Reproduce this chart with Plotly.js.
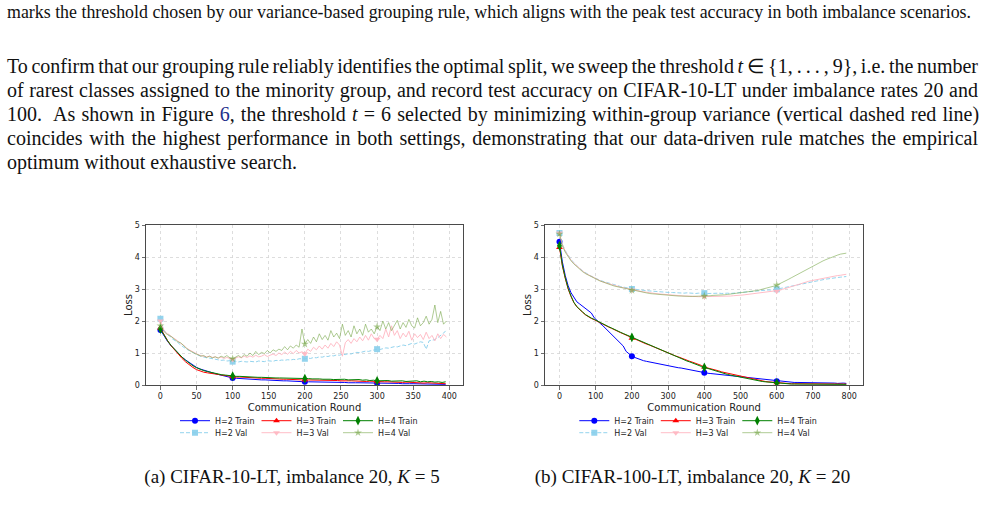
<!DOCTYPE html>
<html>
<head>
<meta charset="utf-8">
<script src="https://cdn.plot.ly/plotly-3.0.1.min.js"></script>
<style>
  html, body { margin: 0; padding: 0; background: #fff; }
  #page { position: relative; width: 986px; height: 506px; overflow: hidden; background: #fff; }
  #fig { position: absolute; left: 0; top: 0; width: 986px; height: 506px; }
  .txt { position: absolute; font-family: "Liberation Serif", "Times New Roman", serif; color: #111;
         white-space: nowrap; z-index: 2; pointer-events: none; }
  .body { font-size: 20px; line-height: 24px; left: 7px; }
  .cap { font-size: 18px; line-height: 22px; }
  .sub { font-size: 19px; line-height: 22px; }
  .link { color: #1d2f8c; }
  .fitline { display: inline-block; transform-origin: 0 0; }
</style>
</head>
<body>
<div id="page">
  <div id="fig"></div>

  <div class="txt cap" style="left:7px; top:1px;"><span class="fitline" data-w="964" data-mode="scale">marks the threshold chosen by our variance-based grouping rule, which aligns with the peak test accuracy in both imbalance scenarios.</span></div>

  <div class="txt body" style="top:53.75px;"><span class="fitline" data-w="971">To confirm that our grouping rule reliably identifies the optimal split, we sweep the threshold <i>t</i>&#8201;&#8712;&#8201;{1,&#8201;.&#8201;.&#8201;.&#8201;,&#8201;9}, i.e. the number</span></div>
  <div class="txt body" style="top:77.9px;"><span class="fitline" data-w="971">of rarest classes assigned to the minority group, and record test accuracy on CIFAR-10-LT under imbalance rates 20 and</span></div>
  <div class="txt body" style="top:102.05px;"><span class="fitline" data-w="971">100.&nbsp; As shown in Figure <span class="link">6</span>, the threshold <i>t</i> = 6 selected by minimizing within-group variance (vertical dashed red line)</span></div>
  <div class="txt body" style="top:126.2px;"><span class="fitline" data-w="971">coincides with the highest performance in both settings, demonstrating that our data-driven rule matches the empirical</span></div>
  <div class="txt body" style="top:150.35px;"><span>optimum without exhaustive search.</span></div>

  <div class="txt sub" id="capA" style="top:466px;">(a) CIFAR-10-LT, imbalance 20, <i>K</i> = 5</div>
  <div class="txt sub" id="capB" style="top:466px;">(b) CIFAR-100-LT, imbalance 20, <i>K</i> = 20</div>
</div>

<script>
// ---------- round indices ----------
function steps(start, stop, step) {
  const out = [];
  for (let v = start; v < stop; v += step) out.push(v);
  return out;
}

// CIFAR-10-LT (K = 5), 400 rounds
const roundsTrainA = steps(0, 400, 5);
const roundsValA = steps(0, 400, 4);
// CIFAR-100-LT (K = 20), 800 rounds
const roundsB = steps(0, 800, 8);

// ---------- CIFAR-10-LT losses ----------
const trainA_H2 = [
  1.72, 1.52, 1.36, 1.22, 1.1, 0.98, 0.87, 0.78, 0.7, 0.62,
  0.55, 0.5, 0.46, 0.42, 0.39, 0.36, 0.33, 0.3, 0.28, 0.25,
  0.22, 0.21, 0.2, 0.2, 0.19, 0.18, 0.18, 0.17, 0.16, 0.16,
  0.15, 0.15, 0.14, 0.14, 0.13, 0.13, 0.12, 0.12, 0.11, 0.11,
  0.1, 0.1, 0.1, 0.09, 0.1, 0.09, 0.09, 0.08, 0.09, 0.08,
  0.08, 0.08, 0.07, 0.08, 0.07, 0.07, 0.07, 0.06, 0.07, 0.06,
  0.06, 0.06, 0.05, 0.06, 0.05, 0.05, 0.05, 0.04, 0.05, 0.04,
  0.04, 0.04, 0.03, 0.04, 0.03, 0.03, 0.03, 0.02, 0.03, 0.02
];
const trainA_H3 = [
  1.78, 1.56, 1.38, 1.22, 1.08, 0.95, 0.83, 0.72, 0.63, 0.55,
  0.48, 0.43, 0.4, 0.38, 0.37, 0.35, 0.33, 0.31, 0.29, 0.27,
  0.26, 0.25, 0.25, 0.24, 0.23, 0.23, 0.22, 0.22, 0.21, 0.21,
  0.2, 0.2, 0.19, 0.19, 0.18, 0.18, 0.17, 0.17, 0.17, 0.16,
  0.16, 0.16, 0.15, 0.16, 0.15, 0.15, 0.14, 0.15, 0.14, 0.14,
  0.13, 0.14, 0.13, 0.13, 0.12, 0.13, 0.12, 0.11, 0.12, 0.11,
  0.1, 0.11, 0.1, 0.1, 0.09, 0.1, 0.09, 0.08, 0.09, 0.08,
  0.07, 0.08, 0.07, 0.06, 0.07, 0.06, 0.05, 0.06, 0.05, 0.04
];
const trainA_H4 = [
  1.75, 1.55, 1.38, 1.23, 1.1, 0.98, 0.87, 0.77, 0.68, 0.6,
  0.54, 0.49, 0.45, 0.42, 0.39, 0.36, 0.34, 0.32, 0.31, 0.29,
  0.28, 0.27, 0.27, 0.26, 0.26, 0.25, 0.25, 0.24, 0.24, 0.23,
  0.23, 0.23, 0.22, 0.22, 0.22, 0.21, 0.21, 0.21, 0.2, 0.21,
  0.2, 0.2, 0.19, 0.2, 0.19, 0.18, 0.19, 0.18, 0.17, 0.18,
  0.17, 0.18, 0.16, 0.17, 0.16, 0.17, 0.15, 0.16, 0.14, 0.15,
  0.13, 0.14, 0.13, 0.14, 0.12, 0.13, 0.12, 0.13, 0.11, 0.12,
  0.11, 0.13, 0.1, 0.12, 0.1, 0.11, 0.09, 0.1, 0.08, 0.1
];
const valA_H2 = [
  2.07, 1.75, 1.62, 1.55, 1.45, 1.4, 1.33, 1.25, 1.18, 1.12,
  1.08, 1.02, 0.98, 0.93, 0.9, 0.87, 0.85, 0.84, 0.82, 0.8,
  0.79, 0.77, 0.78, 0.75, 0.76, 0.73, 0.74, 0.72, 0.74, 0.73,
  0.72, 0.74, 0.73, 0.72, 0.75, 0.74, 0.73, 0.76, 0.75, 0.74,
  0.77, 0.76, 0.78, 0.77, 0.79, 0.78, 0.8, 0.79, 0.82, 0.81,
  0.82, 0.84, 0.83, 0.86, 0.85, 0.88, 0.87, 0.9, 0.89, 0.92,
  0.91, 0.94, 0.93, 0.96, 0.95, 0.98, 0.97, 1.0, 1.02, 1.01,
  1.04, 1.06, 1.05, 1.08, 1.1, 1.12, 1.11, 1.14, 1.16, 1.15,
  1.18, 1.2, 1.19, 1.22, 1.25, 1.23, 1.27, 1.3, 1.28, 1.32,
  1.35, 1.33, 1.12, 1.38, 1.4, 1.42, 1.48, 1.55, 1.62, 1.72
];
const valA_H3 = [
  2.0, 1.75, 1.62, 1.58, 1.5, 1.45, 1.38, 1.3, 1.25, 1.15,
  1.1, 1.05, 0.98, 0.95, 0.92, 0.9, 0.88, 0.9, 0.86, 0.88,
  0.84, 0.87, 0.83, 0.86, 0.82, 0.8, 0.84, 0.88, 0.85, 0.9,
  0.86, 0.91, 0.87, 0.93, 0.88, 0.9, 0.95, 0.89, 0.93, 0.97,
  0.92, 1.0, 0.95, 1.03, 0.96, 1.05, 0.98, 1.08, 1.0, 1.04,
  0.98, 1.12, 1.05, 1.18, 1.1, 1.22, 1.12, 1.25, 1.15, 1.3,
  1.2, 1.35, 1.25, 0.9, 1.32, 1.42, 1.3, 1.45, 1.35, 1.5,
  1.38, 1.55, 1.4, 1.6, 1.45, 1.43, 1.55, 1.45, 1.75, 1.5,
  1.85, 1.55, 1.7, 1.45, 1.62, 1.5, 1.68, 1.4, 1.6, 1.48,
  1.58, 1.42, 1.65, 1.45, 1.55, 1.38, 1.6, 1.45, 1.58, 1.5
];
const valA_H4 = [
  1.85, 1.7, 1.6, 1.55, 1.5, 1.42, 1.35, 1.32, 1.22, 1.15,
  1.08, 1.02, 0.98, 0.95, 0.9, 0.92, 0.86, 0.9, 0.85, 0.88,
  0.84, 0.9, 0.86, 0.92, 0.85, 0.82, 0.88, 0.92, 0.86, 0.95,
  0.9, 1.0, 0.92, 1.05, 0.95, 1.02, 0.98, 1.08, 1.0, 1.1,
  1.05, 1.12, 1.08, 1.2, 1.1, 1.22, 1.15, 1.25, 1.18, 1.75,
  1.28, 1.42, 1.3, 1.5, 1.35, 1.6, 1.42, 1.55, 1.4, 1.7,
  1.5, 1.62, 1.45, 1.9, 1.55, 1.7, 1.5, 1.85, 1.6, 1.75,
  1.55, 1.9, 1.65, 1.75, 1.6, 1.82, 1.7, 2.0, 1.75, 1.95,
  1.7, 1.85, 2.02, 1.75, 1.95, 1.8, 2.05, 1.85, 1.78, 2.1,
  1.85, 1.95, 2.15, 1.9, 2.05, 2.5, 1.95, 2.3, 1.9, 2.0
];

// ---------- CIFAR-100-LT losses ----------
const trainB_H2 = [
  4.48, 3.85, 3.42, 3.1, 2.88, 2.72, 2.6, 2.53, 2.46, 2.4,
  2.33, 2.25, 2.1, 2.0, 1.93, 1.85, 1.76, 1.68, 1.6, 1.52,
  1.42, 1.33, 1.22, 1.05, 0.97, 0.9, 0.86, 0.82, 0.79, 0.76,
  0.74, 0.72, 0.7, 0.68, 0.66, 0.64, 0.62, 0.61, 0.59, 0.57,
  0.56, 0.54, 0.53, 0.51, 0.5, 0.48, 0.46, 0.44, 0.42, 0.4,
  0.38, 0.37, 0.36, 0.35, 0.34, 0.33, 0.33, 0.32, 0.31, 0.3,
  0.29, 0.28, 0.27, 0.26, 0.25, 0.24, 0.22, 0.21, 0.2, 0.18,
  0.17, 0.16, 0.15, 0.14, 0.13, 0.12, 0.11, 0.1, 0.1, 0.09,
  0.09, 0.08, 0.08, 0.08, 0.07, 0.07, 0.08, 0.07, 0.07, 0.06,
  0.07, 0.06, 0.06, 0.07, 0.06, 0.06, 0.05, 0.06, 0.06, 0.05
];
const trainB_H3 = [
  4.3, 3.72, 3.33, 3.0, 2.76, 2.57, 2.44, 2.34, 2.27, 2.19,
  2.13, 2.08, 2.04, 1.99, 1.95, 1.9, 1.86, 1.81, 1.77, 1.72,
  1.68, 1.64, 1.6, 1.56, 1.51, 1.46, 1.43, 1.4, 1.36, 1.32,
  1.28, 1.25, 1.21, 1.17, 1.13, 1.1, 1.06, 1.02, 0.98, 0.95,
  0.91, 0.88, 0.84, 0.81, 0.78, 0.74, 0.71, 0.68, 0.64, 0.61,
  0.56, 0.54, 0.51, 0.48, 0.46, 0.44, 0.41, 0.39, 0.36, 0.34,
  0.31, 0.29, 0.27, 0.25, 0.23, 0.21, 0.19, 0.17, 0.16, 0.14,
  0.12, 0.11, 0.1, 0.09, 0.08, 0.07, 0.06, 0.06, 0.05, 0.05,
  0.04, 0.04, 0.04, 0.03, 0.03, 0.03, 0.03, 0.03, 0.03, 0.03,
  0.03, 0.03, 0.03, 0.03, 0.03, 0.03, 0.03, 0.03, 0.03, 0.03
];
const trainB_H4 = [
  4.35, 3.75, 3.35, 3.02, 2.78, 2.58, 2.45, 2.35, 2.28, 2.2,
  2.14, 2.09, 2.05, 2.0, 1.96, 1.91, 1.86, 1.82, 1.78, 1.73,
  1.69, 1.65, 1.61, 1.57, 1.53, 1.49, 1.45, 1.41, 1.37, 1.33,
  1.29, 1.25, 1.21, 1.17, 1.13, 1.09, 1.05, 1.01, 0.97, 0.93,
  0.9, 0.86, 0.82, 0.79, 0.75, 0.72, 0.68, 0.65, 0.62, 0.58,
  0.55, 0.52, 0.49, 0.46, 0.43, 0.41, 0.38, 0.36, 0.33, 0.31,
  0.29, 0.27, 0.25, 0.23, 0.21, 0.19, 0.17, 0.16, 0.14, 0.13,
  0.11, 0.1, 0.09, 0.08, 0.07, 0.06, 0.05, 0.05, 0.04, 0.04,
  0.03, 0.03, 0.03, 0.02, 0.02, 0.02, 0.02, 0.02, 0.02, 0.02,
  0.02, 0.02, 0.02, 0.02, 0.02, 0.02, 0.02, 0.02, 0.02, 0.02
];
const valB_H2 = [
  4.75, 4.4, 4.2, 4.05, 3.92, 3.82, 3.72, 3.64, 3.57, 3.5,
  3.45, 3.4, 3.35, 3.31, 3.27, 3.24, 3.21, 3.18, 3.15, 3.12,
  3.1, 3.08, 3.06, 3.04, 3.02, 3.0, 2.99, 2.98, 2.97, 2.95,
  2.95, 2.94, 2.93, 2.92, 2.92, 2.91, 2.9, 2.9, 2.89, 2.89,
  2.88, 2.88, 2.88, 2.87, 2.88, 2.87, 2.87, 2.86, 2.87, 2.86,
  2.87, 2.86, 2.86, 2.87, 2.86, 2.87, 2.86, 2.87, 2.87, 2.86,
  2.87, 2.88, 2.88, 2.89, 2.9, 2.91, 2.92, 2.93, 2.94, 2.95,
  2.95, 2.96, 2.97, 2.97, 2.98, 2.99, 3.01, 3.03, 3.05, 3.07,
  3.09, 3.11, 3.13, 3.15, 3.17, 3.19, 3.21, 3.23, 3.24, 3.26,
  3.28, 3.29, 3.31, 3.32, 3.34, 3.35, 3.36, 3.37, 3.38, 3.39
];
const valB_H3 = [
  4.75, 4.38, 4.18, 4.03, 3.9, 3.8, 3.71, 3.63, 3.56, 3.49,
  3.44, 3.39, 3.34, 3.3, 3.26, 3.22, 3.19, 3.16, 3.13, 3.1,
  3.08, 3.06, 3.04, 3.02, 3.0, 2.97, 2.96, 2.94, 2.93, 2.91,
  2.9, 2.88, 2.87, 2.86, 2.85, 2.84, 2.83, 2.82, 2.81, 2.8,
  2.8, 2.79, 2.79, 2.78, 2.78, 2.77, 2.77, 2.77, 2.76, 2.76,
  2.76, 2.76, 2.76, 2.76, 2.77, 2.76, 2.77, 2.77, 2.78, 2.78,
  2.79, 2.79, 2.8, 2.81, 2.82, 2.83, 2.84, 2.85, 2.86, 2.87,
  2.88, 2.89, 2.9, 2.91, 2.92, 2.93, 2.96, 2.99, 3.02, 3.05,
  3.08, 3.11, 3.14, 3.17, 3.2, 3.22, 3.24, 3.26, 3.28, 3.3,
  3.32, 3.34, 3.36, 3.37, 3.39, 3.4, 3.42, 3.43, 3.45, 3.46
];
const valB_H4 = [
  4.72, 4.35, 4.15, 4.0, 3.88, 3.78, 3.69, 3.61, 3.54, 3.48,
  3.43, 3.38, 3.33, 3.29, 3.25, 3.22, 3.18, 3.15, 3.12, 3.09,
  3.07, 3.05, 3.03, 3.01, 2.99, 2.96, 2.94, 2.92, 2.9, 2.89,
  2.87, 2.86, 2.85, 2.84, 2.83, 2.82, 2.81, 2.8, 2.8, 2.79,
  2.79, 2.78, 2.78, 2.77, 2.77, 2.77, 2.77, 2.77, 2.78, 2.78,
  2.78, 2.79, 2.79, 2.8, 2.8, 2.81, 2.81, 2.82, 2.83, 2.84,
  2.85, 2.86, 2.87, 2.88, 2.89, 2.9, 2.91, 2.93, 2.95, 2.97,
  2.99, 3.01, 3.03, 3.06, 3.09, 3.12, 3.16, 3.2, 3.25, 3.3,
  3.35, 3.4, 3.45, 3.5, 3.55, 3.6, 3.65, 3.7, 3.75, 3.79,
  3.84, 3.88, 3.92, 3.96, 4.0, 4.03, 4.06, 4.09, 4.11, 4.12
];

const xTicksA = [0, 50, 100, 150, 200, 250, 300, 350, 400];
const xTicksB = [0, 100, 200, 300, 400, 500, 600, 700, 800];
const yTicks = [0, 1, 2, 3, 4, 5];

// ---------- styles per series ----------
const styles = {
  'H=2 Train': { color: '#0000ff', symbol: 'circle', size: 6, dash: 'solid' },
  'H=3 Train': { color: '#ff0000', symbol: 'triangle-up', size: 6, dash: 'solid' },
  'H=4 Train': { color: '#008000', symbol: 'diamond-tall', size: 7, dash: 'solid' },
  'H=2 Val':   { color: 'rgba(135,206,235,0.9)', symbol: 'square', size: 6, dash: '4px,2px' },
  'H=3 Val':   { color: 'rgba(255,182,193,0.9)', symbol: 'triangle-down', size: 6, dash: 'solid' },
  'H=4 Val':   { color: 'rgba(110,160,60,0.55)', symbol: 'star', size: 6, dash: 'solid' }
};

const traces = [];

function addSeries(name, xs, ys, xa, ya, markStep) {
  const st = styles[name];
  traces.push({
    type: 'scatter', mode: 'lines', x: xs, y: ys, xaxis: xa, yaxis: ya,
    line: { color: st.color, width: 1, dash: st.dash }, showlegend: false, hoverinfo: 'skip'
  });
  const mx = [], my = [];
  xs.forEach((x, i) => { if (x % markStep === 0) { mx.push(x); my.push(ys[i]); } });
  traces.push({
    type: 'scatter', mode: 'markers', x: mx, y: my, xaxis: xa, yaxis: ya,
    marker: { symbol: st.symbol, size: st.size, color: st.color, line: { width: 0 } },
    showlegend: false, hoverinfo: 'skip'
  });
}

function addLegendEntry(name, legendId, xa, ya) {
  const st = styles[name];
  traces.push({
    type: 'scatter', mode: 'lines+markers', x: [null], y: [null], xaxis: xa, yaxis: ya,
    name: name, legend: legendId,
    line: { color: st.color, width: 1, dash: st.dash },
    marker: { symbol: st.symbol, size: st.size, color: st.color, line: { width: 0 } }
  });
}

// Left panel: CIFAR-10-LT
addSeries('H=2 Train', roundsTrainA, trainA_H2, 'x', 'y', 100);
addSeries('H=2 Val', roundsValA, valA_H2, 'x', 'y', 100);
addSeries('H=3 Train', roundsTrainA, trainA_H3, 'x', 'y', 100);
addSeries('H=3 Val', roundsValA, valA_H3, 'x', 'y', 100);
addSeries('H=4 Train', roundsTrainA, trainA_H4, 'x', 'y', 100);
addSeries('H=4 Val', roundsValA, valA_H4, 'x', 'y', 100);

// Right panel: CIFAR-100-LT
addSeries('H=2 Train', roundsB, trainB_H2, 'x2', 'y2', 200);
addSeries('H=2 Val', roundsB, valB_H2, 'x2', 'y2', 200);
addSeries('H=3 Train', roundsB, trainB_H3, 'x2', 'y2', 200);
addSeries('H=3 Val', roundsB, valB_H3, 'x2', 'y2', 200);
addSeries('H=4 Train', roundsB, trainB_H4, 'x2', 'y2', 200);
addSeries('H=4 Val', roundsB, valB_H4, 'x2', 'y2', 200);

// Legend rows: train on the first row, validation on the second
['H=2 Train', 'H=3 Train', 'H=4 Train'].forEach(n => addLegendEntry(n, 'legend', 'x', 'y'));
['H=2 Val', 'H=3 Val', 'H=4 Val'].forEach(n => addLegendEntry(n, 'legend2', 'x', 'y'));
['H=2 Train', 'H=3 Train', 'H=4 Train'].forEach(n => addLegendEntry(n, 'legend3', 'x2', 'y2'));
['H=2 Val', 'H=3 Val', 'H=4 Val'].forEach(n => addLegendEntry(n, 'legend4', 'x2', 'y2'));

const W = 986, H = 506;
const axisFrame = {
  showline: true, mirror: true, linecolor: '#4a4a4a', linewidth: 1,
  ticks: 'outside', ticklen: 3.5, tickwidth: 0.8, tickcolor: '#4a4a4a',
  showgrid: true, gridcolor: '#d4d4d4', gridwidth: 0.8, griddash: 'dot',
  zeroline: false, tickfont: { size: 8, color: '#222' }, fixedrange: true
};

function xAxis(domainPx, rng, ticks, anchor) {
  return Object.assign({}, axisFrame, {
    domain: [domainPx[0] / W, domainPx[1] / W], range: rng, anchor: anchor,
    tickmode: 'array', tickvals: ticks,
    title: { text: 'Communication Round', font: { size: 10, color: '#222' }, standoff: 3 }
  });
}
function yAxis(domainPx, anchor) {
  return Object.assign({}, axisFrame, {
    domain: [1 - domainPx[1] / H, 1 - domainPx[0] / H], range: [0, 5], anchor: anchor,
    tickmode: 'array', tickvals: yTicks,
    title: { text: 'Loss', font: { size: 10, color: '#222' }, standoff: 0 }
  });
}

function legendRow(leftPx, topPx) {
  return {
    orientation: 'h', x: leftPx / W, y: 1 - topPx / H, xanchor: 'left', yanchor: 'top',
    entrywidth: 36.5, entrywidthmode: 'pixels', itemwidth: 30,
    bgcolor: 'rgba(0,0,0,0)', borderwidth: 0,
    font: { size: 8, color: '#222', family: 'DejaVu Sans, sans-serif' }
  };
}

const layout = {
  width: W, height: H, margin: { l: 0, r: 0, t: 0, b: 0 },
  paper_bgcolor: '#ffffff', plot_bgcolor: '#ffffff',
  font: { family: 'DejaVu Sans, sans-serif', color: '#222' },
  xaxis: xAxis([146, 463], [-19.95, 418.95], xTicksA, 'y'),
  yaxis: yAxis([225, 385], 'x'),
  xaxis2: xAxis([545, 863.3], [-39.95, 838.95], xTicksB, 'y2'),
  yaxis2: yAxis([225, 385], 'x2'),
  legend: legendRow(175, 406.2),
  legend2: legendRow(175, 418.2),
  legend3: legendRow(574.3, 406.2),
  legend4: legendRow(574.3, 418.2),
  showlegend: true
};

Plotly.newPlot('fig', traces, layout, { displayModeBar: false, staticPlot: true });

// ---------- text layout ----------
function fitLines() {
  document.querySelectorAll('.fitline').forEach(el => {
    const target = parseFloat(el.dataset.w);
    el.style.wordSpacing = '0px';
    el.style.transform = 'none';
    const natural = el.getBoundingClientRect().width;
    if (el.dataset.mode === 'scale') {
      el.style.transform = 'scaleX(' + (target / natural) + ')';
    } else {
      const gaps = (el.textContent.match(/ /g) || []).length;
      if (gaps > 0) el.style.wordSpacing = ((target - natural) / gaps) + 'px';
    }
  });
  const capA = document.getElementById('capA');
  const capB = document.getElementById('capB');
  capA.style.left = (292 - capA.getBoundingClientRect().width / 2) + 'px';
  capB.style.left = (692.5 - capB.getBoundingClientRect().width / 2) + 'px';
}
fitLines();
if (document.fonts && document.fonts.ready) document.fonts.ready.then(fitLines);
</script>
</body>
</html>
